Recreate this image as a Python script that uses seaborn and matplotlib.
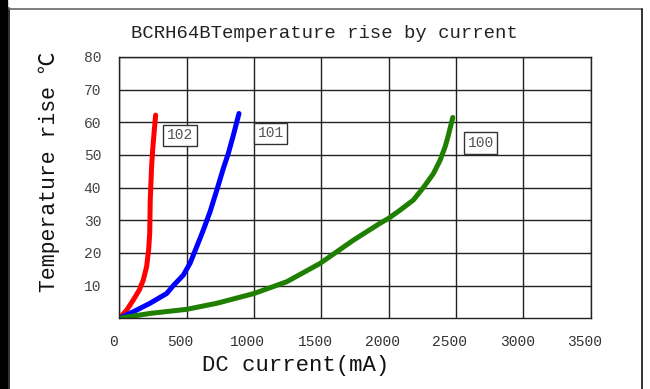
import numpy as np
import pandas as pd
import matplotlib
matplotlib.use('Agg')
import matplotlib.pyplot as plt
import matplotlib.transforms as mtransforms
from matplotlib.patches import Rectangle
from matplotlib.lines import Line2D
import seaborn as sns

# curve data (current mA, temperature rise C)
cur_102 = [0, 55, 104, 149, 178, 203, 218, 226, 228, 230, 235, 240, 248, 258, 270]
temp_102 = [0, 2.5, 5.6, 8.7, 11.7, 15.8, 20.9, 26, 31.1, 36.2, 41.3, 46.4, 51.5, 56.6, 62.2]

cur_101 = [0, 104, 228, 352, 401, 475, 525, 575, 624, 674, 724, 773, 810, 847, 889]
temp_101 = [0, 2.0, 4.6, 7.6, 10, 13.2, 16.8, 21.9, 27, 32.6, 39.2, 45.9, 50.5, 56, 62.7]

cur_100 = [0, 228, 500, 724, 1001, 1244, 1491, 1738, 1937, 2000, 2085, 2184, 2258,
           2333, 2383, 2420, 2444, 2477]
temp_100 = [0, 1.5, 2.75, 4.6, 7.6, 11.2, 16.8, 23.9, 29.1, 30.6, 33.1, 36.2, 40,
            44.3, 48.4, 52.5, 56, 61.5]

x_ticks = [0, 500, 1000, 1500, 2000, 2500, 3000, 3500]
y_ticks = [10, 20, 30, 40, 50, 60, 70, 80]

series_names = ['102', '101', '100']
series_colors = ['#ff0000', '#0000ff', '#1e7f00']
label_pos = [(452, 56), (1124, 56.6), (2684, 53.7)]

df = pd.concat([
    pd.DataFrame({'current': cur_102, 'temp': temp_102, 'type': '102'}),
    pd.DataFrame({'current': cur_101, 'temp': temp_101, 'type': '101'}),
    pd.DataFrame({'current': cur_100, 'temp': temp_100, 'type': '100'}),
])

sns.set_style('white')
mono = ['Liberation Mono', 'Noto Sans CJK SC', 'DejaVu Sans']
plt.rcParams['font.family'] = mono

fig = plt.figure(figsize=(6.5, 3.89), dpi=100)
ax = fig.add_axes([0.1835, 0.1817, 0.7250, 0.6718])

sns.lineplot(data=df, x='current', y='temp', hue='type', hue_order=series_names,
             palette=series_colors, linewidth=3.6, sort=False, estimator=None,
             legend=False, ax=ax)
for ln in ax.lines:
    ln.set_solid_capstyle('round')
    ln.set_solid_joinstyle('round')

ax.set_xlim(0, 3500)
ax.set_ylim(0, 80)
ax.set_xticks(x_ticks)
ax.set_yticks(y_ticks)
ax.set_xticklabels([str(v) for v in x_ticks], fontsize=10.5, color='#333')
ax.set_yticklabels([str(v) for v in y_ticks], fontsize=10.5, color='#444')
ax.tick_params(axis='x', length=0, pad=12)
ax.tick_params(axis='y', length=0, pad=13)
shift = mtransforms.ScaledTranslation(-6 / 100, 0, fig.dpi_scale_trans)
for lab in ax.get_xticklabels():
    lab.set_transform(lab.get_transform() + shift)

ax.grid(True, color='#222', linewidth=1.0)
ax.set_axisbelow(True)
for sp in ax.spines.values():
    sp.set_color('#222')
    sp.set_linewidth(1.0)

ax.set_xlabel('')
ax.set_ylabel('')

for name, (lx, ly) in zip(series_names, label_pos):
    ax.text(lx, ly, name, fontsize=10.5, color='#555', ha='center', va='center',
            bbox=dict(boxstyle='square,pad=0.25', fc='white', ec='#333', lw=1.0))

fig.text(324 / 650, 1 - 34 / 389, 'BCRH64BTemperature rise by current',
         fontsize=13.6, color='#222', ha='center', va='center')
fig.text(296 / 650, 1 - 366 / 389, 'DC current(mA)', fontsize=16,
         color='#111', ha='center', va='center')
fig.text(49 / 650, 1 - 172 / 389, 'Temperature rise ℃', fontsize=15.5,
         color='#111', ha='center', va='center', rotation=90)

# outer frame of the picture
fig.patches.append(Rectangle((0, 0), 7 / 650, 1, transform=fig.transFigure,
                             color='black', zorder=0))
fig.lines.append(Line2D([8.5 / 650, 8.5 / 650], [0, 1 - 8 / 389],
                        transform=fig.transFigure, color='#111', lw=1.2))
fig.lines.append(Line2D([8.5 / 650, 642 / 650], [1 - 8.5 / 389, 1 - 8.5 / 389],
                        transform=fig.transFigure, color='#666', lw=1.2))
fig.lines.append(Line2D([642 / 650, 642 / 650], [0, 1 - 8.5 / 389],
                        transform=fig.transFigure, color='#111', lw=1.2))

fig.savefig('out.png', dpi=100)
